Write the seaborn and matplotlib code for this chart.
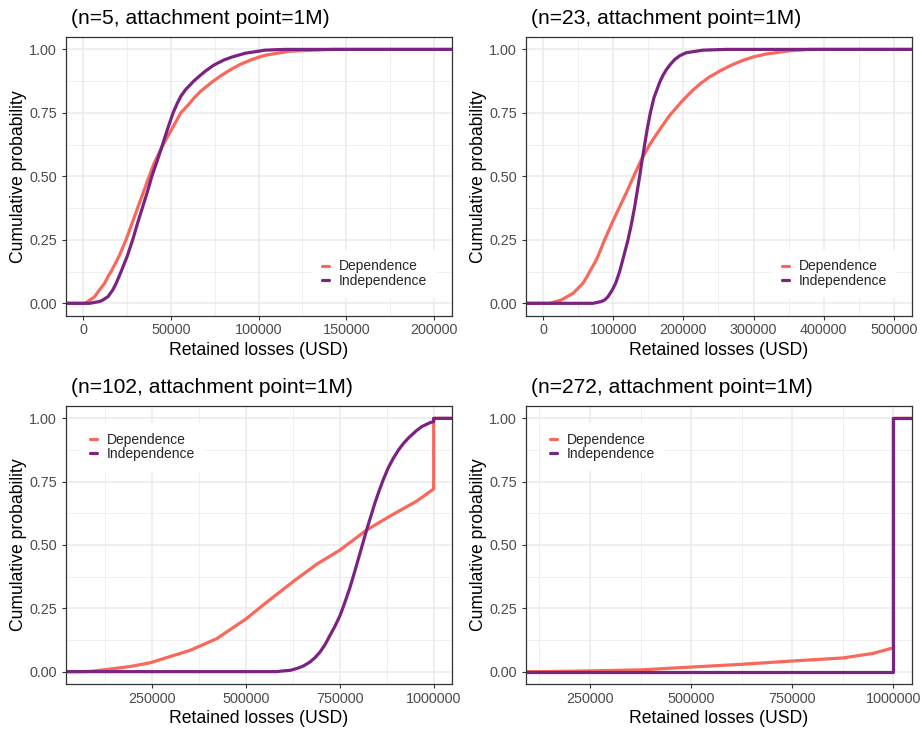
import numpy as np
import pandas as pd
import matplotlib
matplotlib.use("Agg")
import matplotlib.pyplot as plt
from matplotlib.lines import Line2D
from matplotlib.ticker import FixedLocator, FuncFormatter
import seaborn as sns

# ---------------- data ----------------
series_names = ["Dependence", "Independence"]
series_colors = ["#F8695C", "#7B2382"]

titles = ["(n=5, attachment point=1M)", "(n=23, attachment point=1M)",
          "(n=102, attachment point=1M)", "(n=272, attachment point=1M)"]

# n = 5
dep5_loss = [-9700, 1000, 2800, 6600, 9400, 12300, 14200, 16000, 18500, 20800, 24500, 31100,
             37700, 40600, 45700, 55700, 60400, 63200, 67000, 73600, 78300, 84000, 89600,
             96200, 100900, 103800, 118000, 142600, 210070]
dep5_prob = [0, 0, 0.007, 0.026, 0.053, 0.079, 0.105, 0.125, 0.158, 0.19, 0.25, 0.375,
             0.5, 0.553, 0.625, 0.75, 0.785, 0.808, 0.835, 0.872, 0.895, 0.92, 0.941,
             0.96, 0.971, 0.977, 0.993, 1.0, 1.0]
ind5_loss = [-9700, 3800, 9400, 11300, 14200, 17000, 18900, 21700, 25100, 28300, 31100, 34000,
             36800, 39200, 42500, 45300, 48100, 51300, 53800, 55700, 58500, 63200, 66000,
             69800, 74500, 80200, 84900, 92500, 103800, 115000, 210070]
ind5_prob = [0, 0, 0.007, 0.013, 0.026, 0.053, 0.079, 0.125, 0.184, 0.25, 0.316, 0.38,
             0.442, 0.5, 0.566, 0.625, 0.685, 0.75, 0.789, 0.815, 0.842, 0.876, 0.893,
             0.915, 0.938, 0.958, 0.97, 0.985, 0.997, 1.0, 1.0]

# n = 23
dep23_loss = [-24200, 9500, 26100, 34200, 42700, 57000, 62700, 66500, 74500, 79800, 87800,
              98300, 109200, 119700, 129200, 140100, 152000, 166200, 180400, 199400,
              213700, 225500, 237400, 254000, 268300, 284900, 299100, 318100,
              350000, 380000, 525200]
dep23_prob = [0, 0, 0.013, 0.026, 0.039, 0.079, 0.105, 0.125, 0.163, 0.195, 0.25,
              0.316, 0.38, 0.441, 0.5, 0.566, 0.625, 0.684, 0.74, 0.8,
              0.84, 0.868, 0.892, 0.918, 0.938, 0.957, 0.97, 0.982,
              0.994, 1.0, 1.0]
ind23_loss = [-24200, 71200, 83100, 87800, 92600, 98800, 103500, 109200, 114000, 121100,
              125800, 130600, 137700, 141000, 144800, 148100, 152900, 158100, 166200, 170900,
              175700, 181400, 187600, 194700, 204200, 228000, 260000, 525200]
ind23_prob = [0, 0, 0.007, 0.013, 0.026, 0.053, 0.079, 0.125, 0.175, 0.25,
              0.31, 0.38, 0.5, 0.56, 0.625, 0.68, 0.75, 0.81, 0.87, 0.898,
              0.92, 0.941, 0.96, 0.975, 0.987, 0.997, 1.0, 1.0]

# n = 102
dep102_loss = [19800, 66500, 90000, 125000, 190000, 244000, 350400, 421500, 499600, 554700,
               625800, 688000, 750200, 821200, 883400, 954500, 1000000, 1000000, 1048100]
dep102_prob = [0, 0, 0.002, 0.008, 0.02, 0.035, 0.084, 0.13, 0.208, 0.274,
               0.356, 0.424, 0.48, 0.559, 0.614, 0.673, 0.721, 1.0, 1.0]
ind102_loss = [19800, 581400, 599100, 616900, 634700, 652400, 670200, 683500, 696900, 710200,
               723500, 736800, 750200, 763500, 776800, 787500, 799000, 809700, 821200, 832000,
               843400, 854200, 865700, 879000, 892300, 905700, 918900, 932400, 954500, 968000,
               990000, 1000000, 1000000, 1048100]
ind102_prob = [0, 0, 0.003, 0.005, 0.012, 0.022, 0.038, 0.055, 0.077, 0.106,
               0.143, 0.179, 0.221, 0.274, 0.332, 0.385, 0.444, 0.499, 0.559, 0.611,
               0.666, 0.712, 0.758, 0.805, 0.842, 0.874, 0.9, 0.922, 0.952, 0.967,
               0.983, 0.987, 1.0, 1.0]

# n = 272
dep272_loss = [91700, 135000, 250000, 375000, 500000, 625000, 750000, 875000, 950000,
               1000000, 1000000, 1045500]
dep272_prob = [0, 0, 0.003, 0.007, 0.018, 0.029, 0.042, 0.054, 0.072, 0.094, 1.0, 1.0]
ind272_loss = [91700, 1000000, 1000000, 1045500]
ind272_prob = [0, 0, 1.0, 1.0]

y_ticks = [0.0, 0.25, 0.5, 0.75, 1.0]
y_minor = [0.125, 0.375, 0.625, 0.875]
x_ticks = [[0, 50000, 100000, 150000, 200000],
           [0, 100000, 200000, 300000, 400000, 500000],
           [250000, 500000, 750000, 1000000],
           [250000, 500000, 750000, 1000000]]
x_minor = [[25000, 75000, 125000, 175000],
           [50000, 150000, 250000, 350000, 450000],
           [125000, 375000, 625000, 875000],
           [125000, 375000, 625000, 875000]]
x_limits = [(-9700, 210070), (-24200, 525200), (19800, 1048100), (91700, 1045500)]

panels = [
    (dep5_loss, dep5_prob, ind5_loss, ind5_prob),
    (dep23_loss, dep23_prob, ind23_loss, ind23_prob),
    (dep102_loss, dep102_prob, ind102_loss, ind102_prob),
    (dep272_loss, dep272_prob, ind272_loss, ind272_prob),
]

# ---------------- style ----------------
sns.set_theme(style="white")
plt.rcParams["font.family"] = ["Liberation Sans", "DejaVu Sans"]

W, H = 922, 729
fig = plt.figure(figsize=(W / 100, H / 100), dpi=100)
fig.patch.set_facecolor("white")

# panel boxes in pixels: (left, top, right, bottom)
boxes = [(66, 36.7, 451.7, 316.0), (526, 36.7, 911.7, 316.0),
         (66, 405.7, 451.7, 684.3), (526, 405.7, 911.7, 684.3)]
legend_anchor = [(0.638, 0.151), (0.638, 0.151), (0.037, 0.852), (0.037, 0.852)]

palette = dict(zip(series_names, series_colors))

for i, (box, pdata) in enumerate(zip(boxes, panels)):
    l, t, r, b = box
    ax = fig.add_axes([l / W, 1 - b / H, (r - l) / W, (b - t) / H])
    dl, dp, il, ip = pdata
    df = pd.DataFrame({
        "loss": list(dl) + list(il),
        "prob": list(dp) + list(ip),
        "model": [series_names[0]] * len(dl) + [series_names[1]] * len(il),
    })
    sns.lineplot(data=df, x="loss", y="prob", hue="model", hue_order=series_names,
                 palette=palette, estimator=None, sort=False, units="model",
                 linewidth=2.3, legend=False, ax=ax)

    ax.set_xlim(*x_limits[i])
    ax.set_ylim(-0.05, 1.05)
    ax.xaxis.set_major_locator(FixedLocator(x_ticks[i]))
    ax.xaxis.set_minor_locator(FixedLocator(x_minor[i]))
    ax.yaxis.set_major_locator(FixedLocator(y_ticks))
    ax.yaxis.set_minor_locator(FixedLocator(y_minor))
    ax.xaxis.set_major_formatter(FuncFormatter(lambda v, p: f"{int(round(v))}"))
    ax.yaxis.set_major_formatter(FuncFormatter(lambda v, p: f"{v:.2f}"))

    ax.set_axisbelow(True)
    ax.grid(True, which="major", color="#EBEBEB", linewidth=1.1)
    ax.grid(True, which="minor", color="#EBEBEB", linewidth=0.55)
    ax.tick_params(which="major", length=2.9, width=0.8, color="#333333",
                   labelsize=10.4, labelcolor="#4D4D4D", bottom=True, left=True)
    ax.tick_params(axis="y", which="major", pad=3.5)
    ax.tick_params(axis="x", which="major", pad=2.5)
    ax.tick_params(which="minor", length=0)
    for s in ax.spines.values():
        s.set_visible(True)
        s.set_color("#333333")
        s.set_linewidth(0.9)

    ax.set_xlabel("Retained losses (USD)", fontsize=12.7, color="black", labelpad=3)
    ax.set_ylabel("Cumulative probability", fontsize=12.7, color="black", labelpad=2)
    ax.set_title(titles[i], loc="left", fontsize=15.1, color="black", pad=9, x=0.012)

    handles = [Line2D([0], [0], color=c, linewidth=2.3) for c in series_colors]
    leg = ax.legend(handles, series_names, loc="center left",
                    bbox_to_anchor=legend_anchor[i], borderaxespad=0,
                    fontsize=10, handlelength=0.5, handletextpad=0.7,
                    labelspacing=0.05, borderpad=0.7, frameon=True,
                    fancybox=False, framealpha=1.0)
    leg.get_frame().set_facecolor("white")
    leg.get_frame().set_edgecolor("none")

fig.savefig("out.png", dpi=100, facecolor="white")
